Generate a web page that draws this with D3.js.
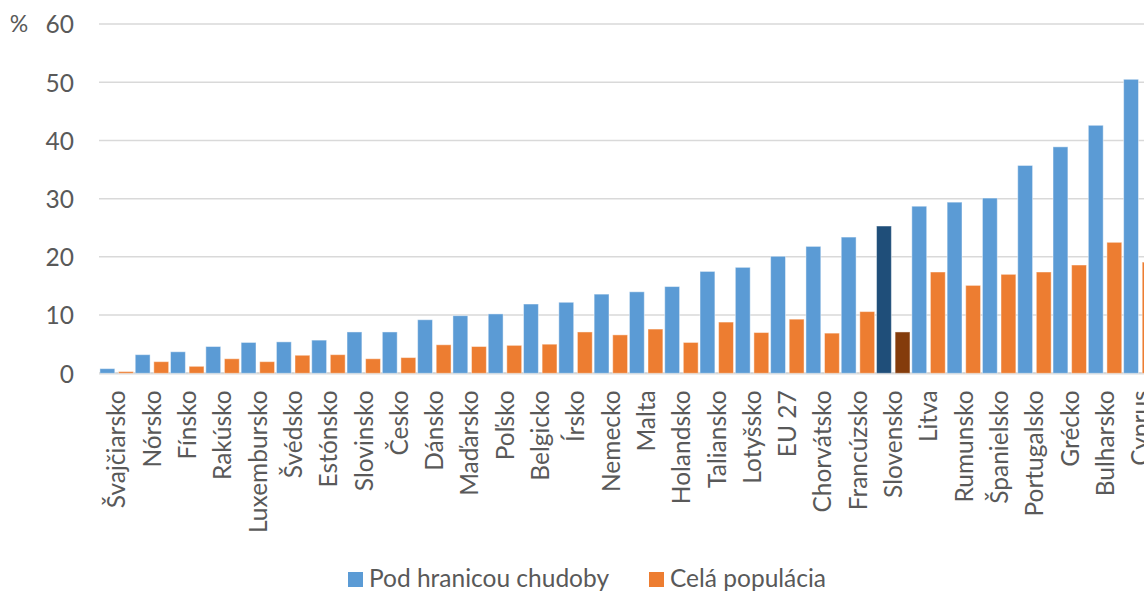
<!DOCTYPE html>
<html>
<head>
<meta charset="utf-8">
<script src="https://cdn.jsdelivr.net/npm/d3@7"></script>
<style>
html,body{margin:0;padding:0;background:#fff;overflow:hidden;}
svg{display:block;font-family:Lato,"Open Sans",sans-serif;}
</style>
</head>
<body>
<svg id="chart" width="1144" height="591"></svg>
<script>
const categories = ["Švajčiarsko","Nórsko","Fínsko","Rakúsko","Luxembursko","Švédsko","Estónsko","Slovinsko","Česko","Dánsko","Maďarsko","Poľsko","Belgicko","Írsko","Nemecko","Malta","Holandsko","Taliansko","Lotyšsko","EU 27","Chorvátsko","Francúzsko","Slovensko","Litva","Rumunsko","Španielsko","Portugalsko","Grécko","Bulharsko","Cyprus"];
const poverty = [0.8,3.2,3.7,4.6,5.3,5.4,5.7,7.1,7.1,9.2,9.9,10.2,11.9,12.2,13.6,14.0,14.9,17.5,18.2,20.1,21.8,23.4,25.3,28.7,29.4,30.1,35.7,38.9,42.6,50.5];
const population = [0.3,2.0,1.2,2.5,2.0,3.1,3.2,2.5,2.7,4.9,4.6,4.8,5.0,7.1,6.6,7.6,5.3,8.8,7.0,9.3,6.9,10.6,7.1,17.4,15.1,17.0,17.4,18.6,22.5,19.1];
const yTicks = [0,10,20,30,40,50,60];
const seriesNames = ["Pod hranicou chudoby","Celá populácia"];
const highlight = "Slovensko";

const colors = {blue:"#5B9BD5", orange:"#ED7D31", darkBlue:"#1F4E79", brown:"#843C0C", grid:"#D9D9D9", text:"#595959"};

const svg = d3.select("#chart");
const plotLeft = 99, plotTop = 24, plotBottom = 373.3;
const step = 35.3;
const fs = 24.5;
const x = d3.scaleBand().domain(categories).range([plotLeft, plotLeft + step*categories.length]).paddingInner(0).paddingOuter(0);
const y = d3.scaleLinear().domain([0,60]).range([plotBottom, plotTop]);
const sub = d3.scaleBand().domain([0,1]).range([0, x.bandwidth()]).paddingInner(0.2).paddingOuter(0.05);

// gridlines
svg.append("g").selectAll("line").data(yTicks).join("line")
  .attr("x1", plotLeft).attr("x2", 1144)
  .attr("y1", d => y(d)).attr("y2", d => y(d))
  .attr("stroke", colors.grid).attr("stroke-width", d => d === 0 ? 2.5 : 1.5);

// y labels
const yAxis = d3.axisLeft(y).tickValues(yTicks).tickSize(0).tickPadding(0);
const gy = svg.append("g").attr("transform", `translate(${74},0)`).call(yAxis);
gy.select(".domain").remove();
gy.selectAll("text").attr("font-size", fs).attr("fill", colors.text).attr("font-family","Lato,sans-serif").attr("dy","0.36em");
svg.append("text").attr("x", 19).attr("y", y(60)).attr("dy","0.36em").attr("text-anchor","middle")
  .attr("font-size", 23).attr("fill", colors.text).text("%");

// bars
const data = categories.map((c,i) => ({c, v:[poverty[i], population[i]]}));
const groups = svg.append("g").selectAll("g").data(data).join("g")
  .attr("transform", d => `translate(${x(d.c)},0)`);
groups.selectAll("rect").data(d => d.v.map((v,k) => ({v,k,c:d.c}))).join("rect")
  .attr("x", d => sub(d.k))
  .attr("width", sub.bandwidth())
  .attr("y", d => y(d.v))
  .attr("height", d => y(0) - y(d.v))
  .attr("fill", d => d.c === highlight ? (d.k === 0 ? colors.darkBlue : colors.brown) : (d.k === 0 ? colors.blue : colors.orange))
  .attr("stroke", "#fff").attr("stroke-opacity", 0.45).attr("stroke-width", 1);

// x labels
const xAxis = d3.axisBottom(x).tickSize(0).tickPadding(0);
const gx = svg.append("g").attr("transform", `translate(0,${plotBottom})`).call(xAxis);
gx.select(".domain").remove();
gx.selectAll("text")
  .attr("font-size", fs).attr("fill", colors.text).attr("font-family","Lato,sans-serif")
  .attr("transform", "rotate(-90)")
  .attr("text-anchor", "end")
  .attr("x", -17).attr("y", 0).attr("dy", "0.36em");

// legend
const legend = svg.append("g");
const legItems = [{name:seriesNames[0], color:colors.blue, x:348},{name:seriesNames[1], color:colors.orange, x:649}];
legItems.forEach(it => {
  legend.append("rect").attr("x", it.x).attr("y", 572).attr("width", 15).attr("height", 15).attr("fill", it.color);
  legend.append("text").attr("x", it.x + 21).attr("y", 587).attr("font-size", fs).attr("fill", colors.text).text(it.name);
});
</script>
</body>
</html>
